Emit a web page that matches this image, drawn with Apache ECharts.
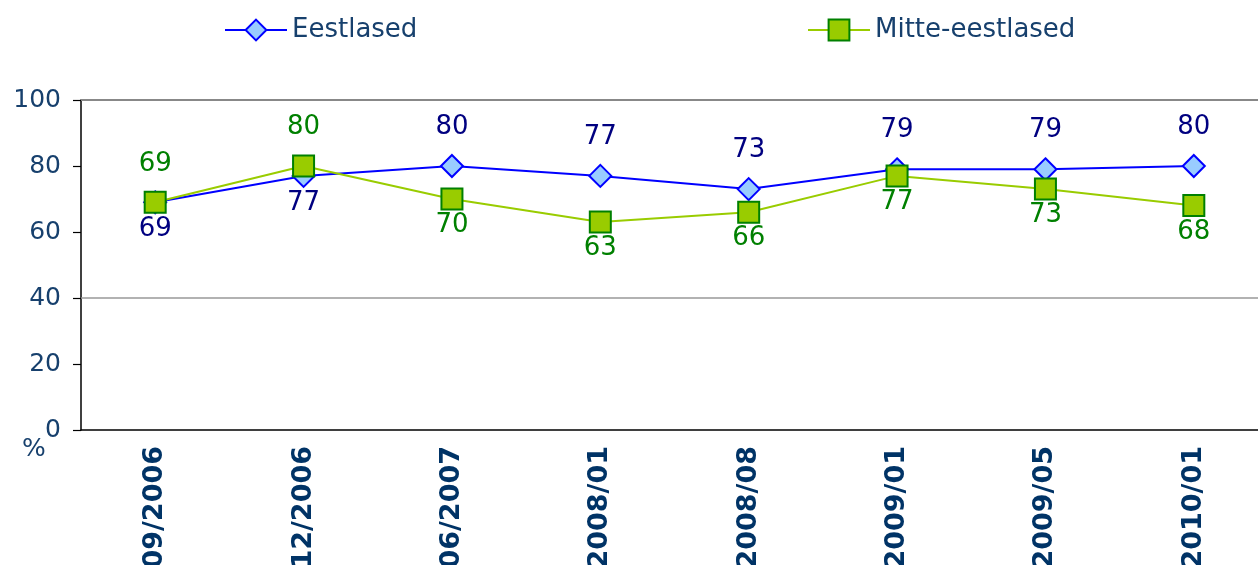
<!DOCTYPE html>
<html>
<head>
<meta charset="utf-8">
<script src="https://cdn.jsdelivr.net/npm/echarts@6/dist/echarts.min.js"></script>
<style>
  html, body { margin: 0; padding: 0; background: #fff; }
  #chart { width: 1258px; height: 565px; }
</style>
</head>
<body>
<div id="chart"></div>
<script>
const categories = ['09/2006', '12/2006', '06/2007', '2008/01', '2008/08', '2009/01', '2009/05', '2010/01']
const eestlased = [69, 77, 80, 77, 73, 79, 79, 80]
const mitteEestlased = [69, 80, 70, 63, 66, 77, 73, 68]
const yTicks = [0, 20, 40, 60, 80, 100]

const font = 'DejaVu Sans, Verdana, sans-serif'
const chart = echarts.init(document.getElementById('chart'))

// label above the higher line, below the lower one (Excel puts them further up than down)
function labelFor (up) {
  return up ? { position: 'top', distance: 14 } : { position: 'bottom', distance: 2 }
}
const eData = eestlased.map(function (v, i) {
  return { value: v, label: labelFor(v > mitteEestlased[i]) }
})
const mData = mitteEestlased.map(function (v, i) {
  return { value: v, label: labelFor(v >= eestlased[i]) }
})

const legendText = { fontFamily: font, fontSize: 26, color: '#17406d' }

const option = {
  animation: false,
  legend: [
    {
      left: 219, top: 12,
      itemWidth: 62, itemHeight: 26, itemGap: 8,
      lineStyle: { width: 2 },
      textStyle: legendText,
      data: ['Eestlased']
    },
    {
      left: 802, top: 12,
      itemWidth: 62, itemHeight: 26, itemGap: 8,
      lineStyle: { width: 2 },
      textStyle: legendText,
      data: ['Mitte-eestlased']
    }
  ],
  grid: { left: 81, right: -10, top: 100, bottom: 135, outerBoundsMode: 'none', containLabel: false },
  graphic: [
    { type: 'text', left: 22, top: 437, style: { text: '%', font: '25px ' + font, fill: '#17406d' } }
  ],
  xAxis: {
    type: 'category',
    data: categories,
    axisLine: { lineStyle: { color: '#000', width: 1.5 } },
    axisTick: { length: 8, lineStyle: { color: '#000', width: 1.2 } },
    axisLabel: {
      rotate: 90, margin: 16, interval: 0,
      fontFamily: font, fontSize: 27, fontWeight: 'bold', color: '#003366'
    }
  },
  yAxis: {
    type: 'value',
    min: yTicks[0], max: yTicks[yTicks.length - 1], interval: 20,
    axisLine: { show: true, lineStyle: { color: '#000', width: 1.5 } },
    axisTick: { show: true, length: 8, lineStyle: { color: '#000', width: 1.2 } },
    axisLabel: { margin: 20, fontFamily: font, fontSize: 25, color: '#17406d' },
    splitLine: { show: false }
  },
  series: [
    {
      name: 'Eestlased',
      type: 'line',
      data: eData,
      symbol: 'diamond',
      symbolSize: 22,
      lineStyle: { color: '#0000ff', width: 2 },
      itemStyle: { color: '#99ccff', borderColor: '#0000ff', borderWidth: 2 },
      label: { show: true, fontFamily: font, fontSize: 26, color: '#000080' },
      markLine: {
        silent: true, symbol: 'none', label: { show: false },
        lineStyle: { color: '#999', type: 'solid', width: 1.5 },
        data: [{ yAxis: 40 }, { yAxis: 100, lineStyle: { color: '#888', width: 2 } }]
      },
      z: 2
    },
    {
      name: 'Mitte-eestlased',
      type: 'line',
      data: mData,
      symbol: 'rect',
      symbolSize: 21,
      lineStyle: { color: '#99cc00', width: 2 },
      itemStyle: { color: '#99cc00', borderColor: '#008000', borderWidth: 2 },
      label: { show: true, fontFamily: font, fontSize: 26, color: '#008000' },
      z: 3
    }
  ]
}
chart.setOption(option)
</script>
</body>
</html>
